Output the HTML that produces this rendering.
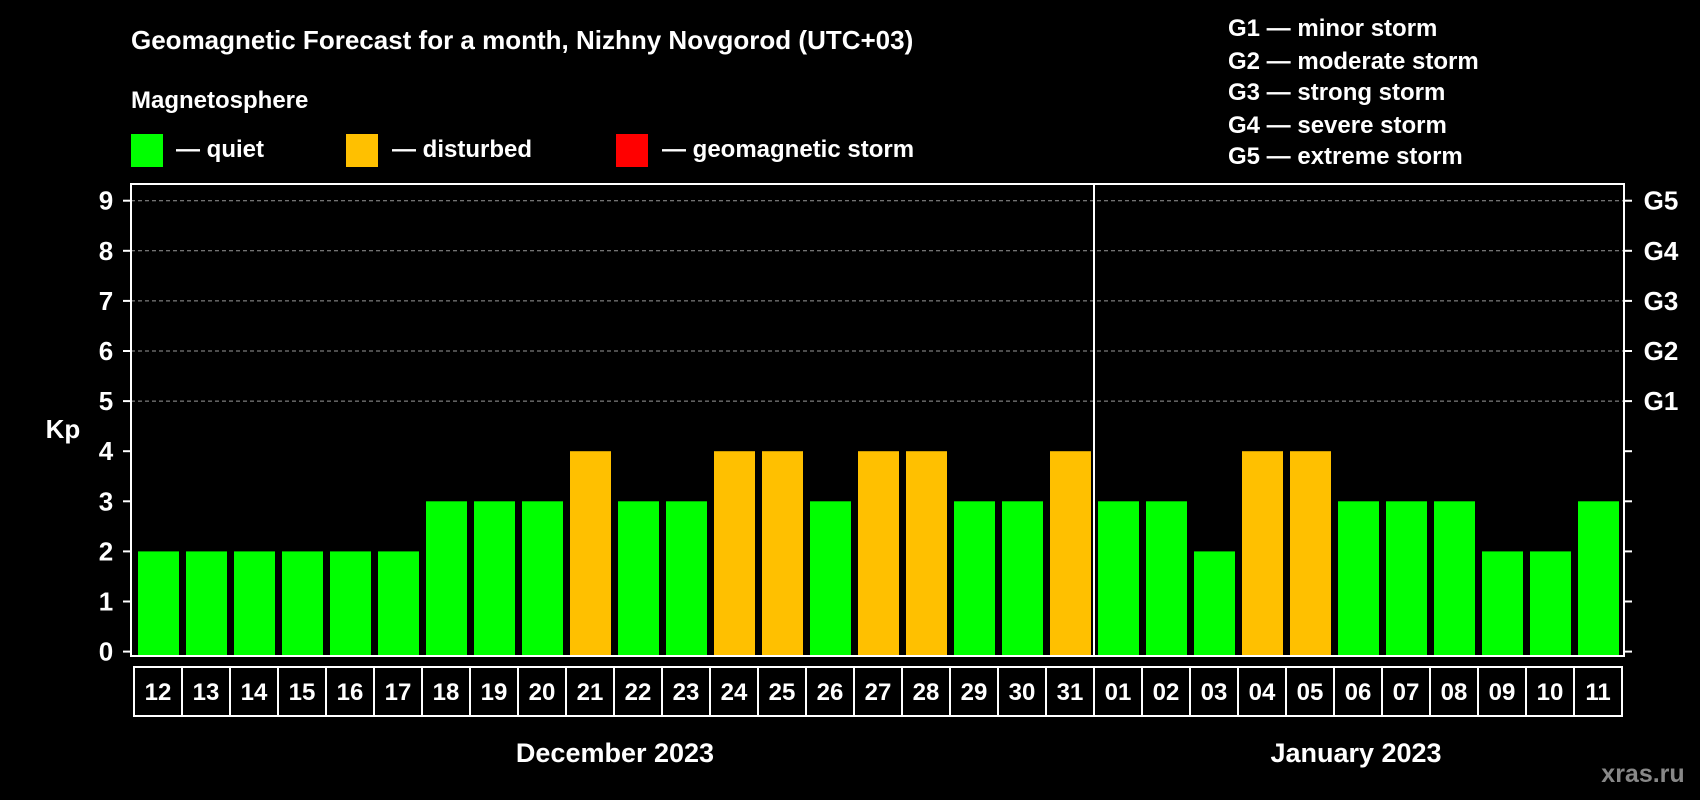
<!DOCTYPE html>
<html><head><meta charset="utf-8"><style>
body{margin:0;background:#000;width:1700px;height:800px;overflow:hidden}
svg{display:block;font-family:"Liberation Sans",sans-serif;font-weight:bold}
</style></head><body>
<svg id="c" width="1700" height="800">
<text x="131" y="49" font-size="26" fill="#fff">Geomagnetic Forecast for a month, Nizhny Novgorod (UTC+03)</text>
<text x="131" y="108" font-size="24" fill="#fff">Magnetosphere</text>
<g><rect x="131" y="134" width="32" height="33" fill="#00ff00"/><text x="176" y="157" font-size="24" fill="#fff">— quiet</text></g>
<g><rect x="346" y="134" width="32" height="33" fill="#ffc000"/><text x="392" y="157" font-size="24" fill="#fff">— disturbed</text></g>
<g><rect x="616" y="134" width="32" height="33" fill="#ff0000"/><text x="662" y="157" font-size="24" fill="#fff">— geomagnetic storm</text></g>
<g font-size="24" fill="#fff">
<text x="1228" y="36">G1 — minor storm</text><text x="1228" y="69">G2 — moderate storm</text><text x="1228" y="100">G3 — strong storm</text><text x="1228" y="133">G4 — severe storm</text><text x="1228" y="164">G5 — extreme storm</text></g>
<text x="63" y="438" font-size="26" fill="#fff" text-anchor="middle">Kp</text>
<g id="g"></g>
<text x="615" y="762" font-size="27" fill="#fff" text-anchor="middle">December 2023</text>
<text x="1356" y="762" font-size="27" fill="#fff" text-anchor="middle">January 2023</text>
<text x="1643" y="782" font-size="25" fill="#888" text-anchor="middle">xras.ru</text>
</svg>
<script>
const days=["12","13","14","15","16","17","18","19","20","21","22","23","24","25","26","27","28","29","30","31","01","02","03","04","05","06","07","08","09","10","11"];
const kp=[2,2,2,2,2,2,3,3,3,4,3,3,4,4,3,4,4,3,3,4,3,3,2,4,4,3,3,3,2,2,3];
const yTicks=[0,1,2,3,4,5,6,7,8,9];
const gLabels=["G1","G2","G3","G4","G5"];
const NS="http://www.w3.org/2000/svg",g=document.getElementById('g');
const L=131,R=1624,T=184,B=656,Y0=651.6,U=50.1,BX=134,CW=(1622-134)/31;
const y=v=>Y0-v*U, x=i=>BX+i*CW;
function mk(t,a,p){const e=document.createElementNS(NS,t);for(const k in a)e.setAttribute(k,a[k]);(p||g).appendChild(e);return e;}
yTicks.forEach(v=>{
 if(v>=5){const l=mk('line',{x1:L,x2:R,y1:y(v),y2:y(v),stroke:'#999','stroke-dasharray':'4,3','stroke-width':1});
 
 }
 mk('line',{x1:L-8,x2:L,y1:y(v),y2:y(v),stroke:'#fff','stroke-width':2});
 mk('line',{x1:R,x2:R+8,y1:y(v),y2:y(v),stroke:'#fff','stroke-width':2});
 const t=mk('text',{x:106,y:y(v)+9,'font-size':26,fill:'#fff','text-anchor':'middle'});t.textContent=v;
 
 
});
gLabels.forEach((s,i)=>{const t=mk('text',{x:1661,y:y(5+i)+9,'font-size':26,fill:'#fff','text-anchor':'middle'});t.textContent=s;
 
 });
kp.forEach((v,i)=>{
 const c=v>=5?'#ff0000':v>=4?'#ffc000':'#00ff00';
 const r=mk('rect',{x:x(i)+4,y:y(v),width:CW-7,height:B-y(v),fill:c});
 
 
 const b=mk('rect',{x:x(i),y:667,width:CW,height:49,fill:'none',stroke:'#fff','stroke-width':2});
 
 
 const t=mk('text',{x:x(i)+CW/2,y:700,'font-size':24,fill:'#fff','text-anchor':'middle'});t.textContent=days[i];
 
 
});
const f=mk('rect',{x:L,y:T,width:R-L,height:B-T,fill:'none',stroke:'#fff','stroke-width':2});


const d=mk('line',{x1:x(20),x2:x(20),y1:T,y2:B,stroke:'#fff','stroke-width':2});


</script>
</body></html>
